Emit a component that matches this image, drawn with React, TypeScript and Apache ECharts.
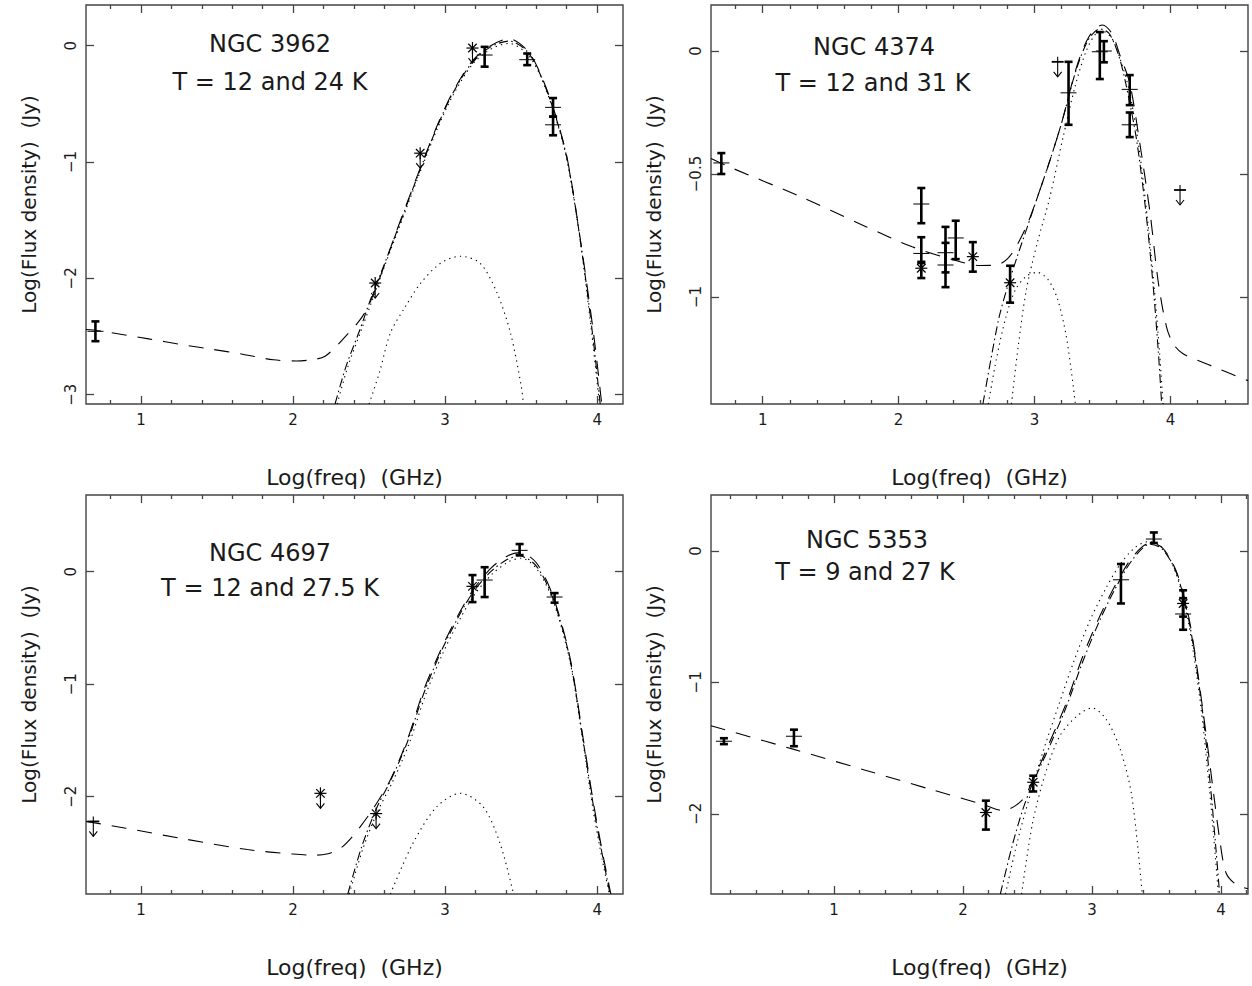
import React, { useEffect, useRef } from "react";
import * as echarts from "echarts";

// ---------------- data ----------------
const galaxyNames = ["NGC 3962", "NGC 4374", "NGC 4697", "NGC 5353"];
const temperatureLabels = ["T = 12 and 24 K", "T = 12 and 31 K", "T = 12 and 27.5 K", "T = 9 and 27 K"];
const xAxisTitle = "Log(freq)  (GHz)";
const yAxisTitle = "Log(Flux density)  (Jy)";

const xRanges = [[0.638, 4.17], [0.62, 4.57], [0.638, 4.17], [0.047, 4.21]];
const yRanges = [[-3.08, 0.35], [-1.435, 0.187], [-2.865, 0.682], [-2.61, 0.425]];
const xMajorTicks = [1, 2, 3, 4];
const xMinorTicks = [0.2, 0.4, 0.6, 0.8, 1.2, 1.4, 1.6, 1.8, 2.2, 2.4, 2.6, 2.8, 3.2, 3.4, 3.6, 3.8, 4.2, 4.4];
const yTicks = [[0, -1, -2, -3], [0, -0.5, -1], [0, -1, -2], [0, -1, -2]];

// NGC 3962
const n3962Total = [[0.638, -2.44], [0.72, -2.45], [1.05, -2.52], [1.27, -2.57], [1.47, -2.61], [1.66, -2.65], [1.87, -2.7], [2.02, -2.71], [2.12, -2.7], [2.21, -2.67], [2.33, -2.52], [2.46, -2.32], [2.54, -2.1], [2.69, -1.56], [2.84, -1.04], [2.95, -0.68], [3.05, -0.4], [3.18, -0.13], [3.3, 0.0], [3.42, 0.06], [3.54, -0.04], [3.62, -0.22], [3.71, -0.53], [3.8, -0.95], [3.89, -1.67], [3.976, -2.47], [4.03, -3.08]];
const n3962Dust = [[2.276, -3.08], [2.35, -2.75], [2.44, -2.44], [2.51, -2.18], [2.6, -1.88], [2.69, -1.57], [2.84, -1.05], [2.95, -0.69], [3.05, -0.41], [3.18, -0.14], [3.3, -0.01], [3.42, 0.04], [3.54, -0.05], [3.62, -0.23], [3.71, -0.54], [3.8, -0.96], [3.89, -1.68], [3.97, -2.48], [4.02, -3.08]];
const n3962Warm = [[2.29, -3.08], [2.36, -2.76], [2.45, -2.44], [2.52, -2.19], [2.6, -1.9], [2.69, -1.59], [2.84, -1.07], [2.95, -0.71], [3.05, -0.43], [3.18, -0.16], [3.3, -0.03], [3.42, 0.02], [3.54, -0.07], [3.62, -0.24], [3.71, -0.55], [3.8, -0.97], [3.89, -1.69], [3.965, -2.48], [4.015, -3.08]];
const n3962Cold = [[2.5, -3.08], [2.57, -2.8], [2.64, -2.47], [2.74, -2.24], [2.84, -2.04], [2.97, -1.87], [3.1, -1.81], [3.23, -1.87], [3.34, -2.12], [3.43, -2.47], [3.5, -2.92], [3.515, -3.08]];
// [x, y, low, high, marker(0 = plus, 1 = asterisk)]
const n3962Bars = [[0.7, -2.455, -2.54, -2.37, 0], [3.26, -0.08, -0.18, -0.01, 0], [3.54, -0.12, -0.167, -0.067, 0], [3.71, -0.53, -0.61, -0.45, 0], [3.71, -0.68, -0.77, -0.61, 0]];
// upper limits [x, y, marker]
const n3962Limits = [[2.54, -2.04, 1], [2.836, -0.924, 1], [3.18, -0.02, 1]];

// NGC 4374
const n4374Total = [[0.62, -0.437], [0.78, -0.477], [1.27, -0.59], [1.76, -0.714], [2.1, -0.796], [2.4, -0.848], [2.6, -0.872], [2.72, -0.87], [2.8, -0.845], [2.87, -0.79], [2.95, -0.7], [3.03, -0.58], [3.11, -0.45], [3.2, -0.29], [3.31, -0.064], [3.4, 0.058], [3.5, 0.106], [3.57, 0.07], [3.63, -0.02], [3.7, -0.13], [3.77, -0.36], [3.85, -0.66], [3.91, -0.94], [3.97, -1.12], [4.02, -1.19], [4.09, -1.23], [4.3, -1.28], [4.57, -1.34]];
const n4374Dust = [[2.62, -1.435], [2.68, -1.25], [2.74, -1.08], [2.8, -0.96], [2.87, -0.84], [2.95, -0.71], [3.03, -0.58], [3.11, -0.45], [3.2, -0.29], [3.31, -0.07], [3.4, 0.05], [3.48, 0.09], [3.55, 0.07], [3.62, -0.02], [3.67, -0.13], [3.75, -0.36], [3.82, -0.66], [3.87, -0.94], [3.91, -1.22], [3.935, -1.435]];
const n4374Warm = [[2.83, -1.435], [2.88, -1.2], [2.94, -0.97], [3.02, -0.78], [3.11, -0.6], [3.21, -0.35], [3.3, -0.14], [3.38, 0.0], [3.45, 0.07], [3.5, 0.08], [3.57, 0.05], [3.64, -0.05], [3.7, -0.17], [3.77, -0.4], [3.83, -0.68], [3.88, -0.96], [3.92, -1.23], [3.945, -1.435]];
const n4374Cold = [[2.66, -1.435], [2.72, -1.25], [2.79, -1.08], [2.86, -0.97], [2.94, -0.915], [3.02, -0.9], [3.1, -0.93], [3.17, -1.01], [3.23, -1.15], [3.27, -1.3], [3.3, -1.435]];
const n4374Bars = [[0.696, -0.455, -0.5, -0.415, 0], [2.167, -0.622, -0.7, -0.557, 0], [2.167, -0.823, -0.862, -0.757, 0], [2.167, -0.883, -0.923, -0.857, 1], [2.345, -0.82, -0.9, -0.715, 0], [2.345, -0.87, -0.96, -0.78, 0], [2.42, -0.76, -0.846, -0.69, 0], [2.546, -0.836, -0.897, -0.777, 1], [2.82, -0.942, -1.023, -0.873, 1], [3.25, -0.17, -0.3, -0.044, 0], [3.48, -0.003, -0.114, 0.077, 0], [3.51, 0.0, -0.046, 0.04, 0], [3.7, -0.156, -0.22, -0.098, 0], [3.7, -0.3, -0.35, -0.25, 0]];
const n4374Limits = [[3.17, -0.044, 0], [4.07, -0.565, 0]];

// NGC 4697
const n4697Total = [[0.638, -2.22], [0.9, -2.28], [1.26, -2.37], [1.7, -2.47], [2.0, -2.51], [2.13, -2.52], [2.22, -2.51], [2.31, -2.46], [2.38, -2.37], [2.44, -2.27], [2.53, -2.1], [2.64, -1.85], [2.75, -1.5], [2.86, -1.05], [2.97, -0.7], [3.08, -0.4], [3.18, -0.17], [3.3, 0.03], [3.41, 0.14], [3.49, 0.17], [3.6, 0.08], [3.71, -0.22], [3.82, -0.755], [3.91, -1.5], [3.98, -2.09], [4.04, -2.53], [4.09, -2.865]];
const n4697Dust = [[2.36, -2.865], [2.45, -2.45], [2.55, -2.1], [2.64, -1.86], [2.75, -1.52], [2.86, -1.08], [2.97, -0.72], [3.08, -0.42], [3.18, -0.19], [3.3, 0.0], [3.41, 0.11], [3.49, 0.14], [3.6, 0.05], [3.71, -0.24], [3.82, -0.77], [3.91, -1.52], [3.98, -2.12], [4.04, -2.56], [4.085, -2.865]];
const n4697Warm = [[2.37, -2.865], [2.46, -2.46], [2.56, -2.12], [2.65, -1.88], [2.76, -1.54], [2.87, -1.1], [2.98, -0.74], [3.09, -0.44], [3.19, -0.21], [3.31, -0.02], [3.42, 0.09], [3.5, 0.12], [3.6, 0.03], [3.71, -0.26], [3.82, -0.79], [3.91, -1.54], [3.975, -2.13], [4.035, -2.57], [4.08, -2.865]];
const n4697Cold = [[2.64, -2.865], [2.79, -2.41], [2.945, -2.09], [3.1, -1.97], [3.25, -2.09], [3.36, -2.41], [3.45, -2.865]];
const n4697Bars = [[3.18, -0.13, -0.27, -0.03, 1], [3.26, -0.074, -0.225, 0.04, 0], [3.49, 0.19, 0.148, 0.246, 0], [3.72, -0.225, -0.275, -0.19, 0]];
const n4697Limits = [[0.686, -2.22, 0], [2.18, -1.97, 1], [2.546, -2.15, 1]];

// NGC 5353
const n5353Total = [[0.047, -1.33], [0.69, -1.51], [1.25, -1.67], [1.77, -1.82], [2.16, -1.93], [2.31, -1.975], [2.455, -1.9], [2.54, -1.75], [2.67, -1.46], [2.8, -1.16], [2.93, -0.8], [3.06, -0.5], [3.19, -0.245], [3.32, -0.04], [3.45, 0.06], [3.55, 0.02], [3.66, -0.17], [3.76, -0.55], [3.86, -1.21], [3.94, -1.82], [3.99, -2.19], [4.04, -2.45], [4.12, -2.54], [4.21, -2.57]];
const n5353Dust = [[2.29, -2.61], [2.38, -2.25], [2.46, -1.98], [2.54, -1.77], [2.67, -1.49], [2.8, -1.19], [2.93, -0.84], [3.06, -0.53], [3.19, -0.27], [3.32, -0.06], [3.45, 0.05], [3.55, 0.01], [3.66, -0.18], [3.76, -0.57], [3.86, -1.24], [3.92, -1.8], [3.96, -2.25], [3.99, -2.61]];
const n5353Warm = [[2.33, -2.61], [2.42, -2.22], [2.52, -1.86], [2.62, -1.53], [2.74, -1.18], [2.86, -0.84], [2.98, -0.54], [3.1, -0.3], [3.22, -0.1], [3.34, 0.03], [3.44, 0.07], [3.54, 0.03], [3.64, -0.14], [3.74, -0.5], [3.84, -1.15], [3.91, -1.8], [3.955, -2.3], [3.98, -2.61]];
const n5353Cold = [[2.455, -2.61], [2.54, -2.07], [2.64, -1.69], [2.75, -1.41], [2.88, -1.26], [3.0, -1.195], [3.11, -1.28], [3.22, -1.51], [3.31, -1.87], [3.39, -2.61]];
const n5353Bars = [[0.147, -1.448, -1.47, -1.425, 0], [0.69, -1.41, -1.486, -1.36, 0], [2.178, -1.99, -2.12, -1.9, 1], [2.545, -1.76, -1.83, -1.71, 1], [3.225, -0.22, -0.4, -0.1, 0], [3.48, 0.09, 0.06, 0.14, 0], [3.707, -0.4, -0.5, -0.3, 1], [3.707, -0.48, -0.6, -0.36, 0]];
const n5353Limits: number[][] = [];

const panelTotals = [n3962Total, n4374Total, n4697Total, n5353Total];
const panelDust = [n3962Dust, n4374Dust, n4697Dust, n5353Dust];
const panelWarm = [n3962Warm, n4374Warm, n4697Warm, n5353Warm];
const panelCold = [n3962Cold, n4374Cold, n4697Cold, n5353Cold];
const panelBars = [n3962Bars, n4374Bars, n4697Bars, n5353Bars];
const panelLimits = [n3962Limits, n4374Limits, n4697Limits, n5353Limits];

// ---------------- layout & style ----------------
const FONT = '"DejaVu Sans", "Liberation Sans", sans-serif';
const INK = "#000";
const TEXT = "#1a1a1a";
const FRAME = "#444";
const gridBoxes = [
  { left: 86, top: 5, width: 537, height: 399 },
  { left: 711, top: 5, width: 537, height: 399 },
  { left: 86, top: 495, width: 537, height: 399 },
  { left: 711, top: 495, width: 537, height: 399 },
];
const labelCenters = [
  [[270, 44], [270, 82]],
  [[874, 47], [873, 83]],
  [[270, 553], [270, 588]],
  [[867, 540], [865, 572]],
];

function starLines(x: number, y: number, r: number) {
  const d = r * 0.7071;
  const st = { stroke: INK, lineWidth: 1.2 };
  return [
    { type: "line", shape: { x1: x - r, y1: y, x2: x + r, y2: y }, style: st },
    { type: "line", shape: { x1: x, y1: y - r, x2: x, y2: y + r }, style: st },
    { type: "line", shape: { x1: x - d, y1: y - d, x2: x + d, y2: y + d }, style: st },
    { type: "line", shape: { x1: x - d, y1: y + d, x2: x + d, y2: y - d }, style: st },
  ];
}

function renderBar(_params: any, api: any) {
  const x = api.value(0);
  const c = api.coord([x, api.value(1)]);
  const lo = api.coord([x, api.value(2)]);
  const hi = api.coord([x, api.value(3)]);
  const m = api.value(4);
  const bold = { stroke: INK, lineWidth: 2.6 };
  const children: any[] = [
    { type: "line", shape: { x1: c[0], y1: lo[1], x2: c[0], y2: hi[1] }, style: bold },
    { type: "line", shape: { x1: c[0] - 4, y1: lo[1], x2: c[0] + 4, y2: lo[1] }, style: bold },
    { type: "line", shape: { x1: c[0] - 4, y1: hi[1], x2: c[0] + 4, y2: hi[1] }, style: bold },
  ];
  if (m === 1) children.push(...starLines(c[0], c[1], 6));
  else children.push({ type: "line", shape: { x1: c[0] - 8, y1: c[1], x2: c[0] + 8, y2: c[1] }, style: { stroke: INK, lineWidth: 1 } });
  return { type: "group", children };
}

function renderLimit(_params: any, api: any) {
  const c = api.coord([api.value(0), api.value(1)]);
  const m = api.value(2);
  const x = c[0];
  const y = c[1];
  const thin = { stroke: INK, lineWidth: 1.1 };
  const children: any[] = [];
  if (m === 1) children.push(...starLines(x, y, 6));
  else {
    children.push({ type: "line", shape: { x1: x - 6, y1: y, x2: x + 6, y2: y }, style: { stroke: INK, lineWidth: 1.8 } });
    children.push({ type: "line", shape: { x1: x, y1: y - 5, x2: x, y2: y }, style: thin });
  }
  children.push({ type: "line", shape: { x1: x, y1: y, x2: x, y2: y + 15 }, style: thin });
  children.push({ type: "polyline", shape: { points: [[x - 4, y + 10], [x, y + 15], [x + 4, y + 10]] }, style: { stroke: INK, lineWidth: 1.1, fill: "none" } });
  return { type: "group", children };
}

function minusFmt(v: number) {
  return String(v).replace("-", "\u2212");
}

function buildOption() {
  const grid: any[] = [];
  const xAxis: any[] = [];
  const yAxis: any[] = [];
  const series: any[] = [];
  const graphic: any[] = [];
  const tickStyle = { color: FRAME, width: 1.3 };
  const noLine = { show: false, onZero: false };

  for (let i = 0; i < 4; i++) {
    grid.push({ ...gridBoxes[i], show: true, borderColor: FRAME, borderWidth: 1.4, backgroundColor: "transparent" });
    const [xmin, xmax] = xRanges[i];
    const [ymin, ymax] = yRanges[i];
    const major = xMajorTicks.filter((v) => v > xmin && v < xmax);
    const minor = xMinorTicks.filter((v) => v > xmin && v < xmax);
    const xb = { type: "value", gridIndex: i, min: xmin, max: xmax, splitLine: { show: false }, axisLine: noLine };
    const xi = xAxis.length;
    xAxis.push({
      ...xb, position: "bottom",
      name: xAxisTitle, nameLocation: "middle", nameGap: 62,
      nameTextStyle: { fontFamily: FONT, fontSize: 22, color: TEXT },
      axisTick: { inside: true, length: 8, customValues: major, lineStyle: tickStyle },
      axisLabel: { customValues: major, margin: 8, fontFamily: FONT, fontSize: 15, color: TEXT },
    });
    xAxis.push({ ...xb, position: "bottom", axisTick: { inside: true, length: 4, customValues: minor, lineStyle: tickStyle }, axisLabel: { show: false } });
    xAxis.push({ ...xb, position: "top", axisTick: { inside: true, length: 8, customValues: major, lineStyle: tickStyle }, axisLabel: { show: false } });
    xAxis.push({ ...xb, position: "top", axisTick: { inside: true, length: 4, customValues: minor, lineStyle: tickStyle }, axisLabel: { show: false } });

    const yb = { type: "value", gridIndex: i, min: ymin, max: ymax, splitLine: { show: false }, axisLine: noLine };
    const yi = yAxis.length;
    yAxis.push({
      ...yb, position: "left",
      name: yAxisTitle, nameLocation: "middle", nameGap: 47,
      nameTextStyle: { fontFamily: FONT, fontSize: 20, color: TEXT },
      axisTick: { inside: true, length: 8, customValues: yTicks[i], lineStyle: tickStyle },
      axisLabel: { customValues: yTicks[i], rotate: 90, margin: 8, fontFamily: FONT, fontSize: 15, color: TEXT, formatter: minusFmt },
    });
    yAxis.push({ ...yb, position: "right", axisTick: { inside: true, length: 8, customValues: yTicks[i], lineStyle: tickStyle }, axisLabel: { show: false } });

    const lineBase = { type: "line", xAxisIndex: xi, yAxisIndex: yi, smooth: 0.3, showSymbol: false, symbol: "none", silent: true };
    series.push({ ...lineBase, data: panelCold[i], lineStyle: { color: INK, width: 1.1, type: [1.3, 4.2] } });
    series.push({ ...lineBase, data: panelWarm[i], lineStyle: { color: INK, width: 1.1, type: [1.3, 4.2] } });
    series.push({ ...lineBase, data: panelDust[i], lineStyle: { color: INK, width: 1.1, type: [9, 3.5, 1.5, 3.5] } });
    series.push({ ...lineBase, data: panelTotals[i], lineStyle: { color: INK, width: 1.1, type: [15, 11] } });
    series.push({ type: "custom", xAxisIndex: xi, yAxisIndex: yi, data: panelBars[i], renderItem: renderBar, clip: false, silent: true, encode: { x: 0, y: 1 }, z: 5 });
    if (panelLimits[i].length) {
      series.push({ type: "custom", xAxisIndex: xi, yAxisIndex: yi, data: panelLimits[i], renderItem: renderLimit, clip: false, silent: true, encode: { x: 0, y: 1 }, z: 5 });
    }

    const texts = [galaxyNames[i], temperatureLabels[i]];
    texts.forEach((t, k) => {
      graphic.push({
        type: "text", x: labelCenters[i][k][0], y: labelCenters[i][k][1], silent: true,
        style: { text: t, fontFamily: FONT, fontSize: 24, fill: TEXT, align: "center", verticalAlign: "middle" },
      });
    });
  }

  return { animation: false, backgroundColor: "#fff", grid, xAxis, yAxis, series, graphic };
}

export default function App() {
  const ref = useRef<HTMLDivElement>(null);
  useEffect(() => {
    if (!ref.current) return;
    const chart = echarts.init(ref.current, undefined, { renderer: "svg" });
    chart.setOption(buildOption() as any);
    return () => chart.dispose();
  }, []);
  return <div ref={ref} style={{ position: "absolute", left: 0, top: 0, width: 1252, height: 986, background: "#fff" }} />;
}
